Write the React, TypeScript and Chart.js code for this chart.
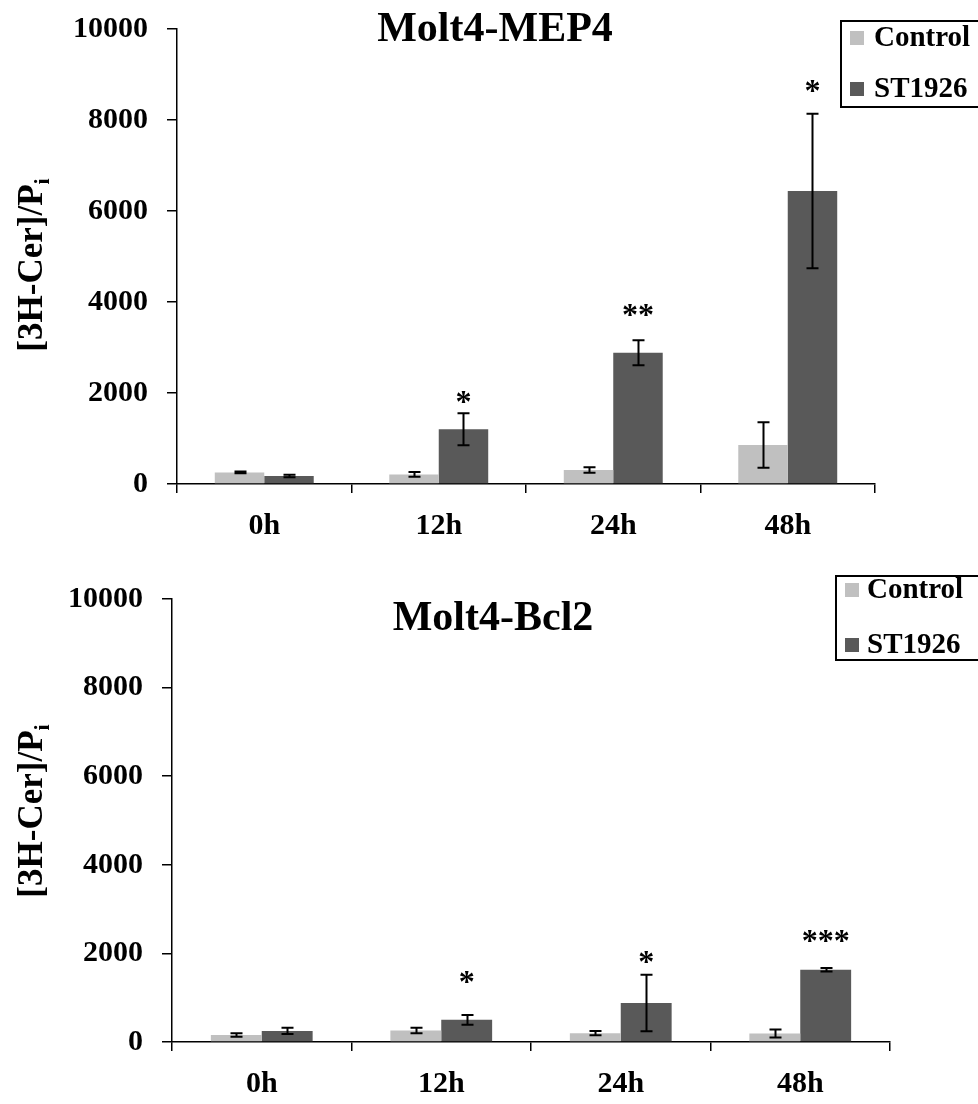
import React, { useEffect, useRef } from 'react';
import { Chart, registerables } from 'chart.js';

Chart.register(...registerables);

// Time points and series
const timePoints = ['0h', '12h', '24h', '48h'];
const seriesNames = ['Control', 'ST1926'];
const yTickValues = [0, 2000, 4000, 6000, 8000, 10000];

// Molt4-MEP4: mean and error
const mep4Control = [255, 211, 308, 857];
const mep4ControlErr = [20, 50, 60, 498];
const mep4Treated = [176, 1202, 2886, 6440];
const mep4TreatedErr = [30, 352, 275, 1700];
const mep4Stars = ['', '*', '**', '*'];

// Molt4-Bcl2: mean and error
const bcl2Control = [160, 260, 200, 190];
const bcl2ControlErr = [40, 60, 50, 90];
const bcl2Treated = [250, 500, 880, 1630];
const bcl2TreatedErr = [70, 110, 640, 40];
const bcl2Stars = ['', '*', '*', '***'];

const SERIF = '"Liberation Serif", "Times New Roman", serif';
const CONTROL_COLOR = '#c0c0c0';
const TREATED_COLOR = '#595959';

type Geom = {
  height: number;
  left: number;
  right: number;
  top: number;
  bottom: number;
  titleX: number;
  titleY: number;
  yTitleX: number;
  yTitleY: number;
  legendX: number;
  legendY: number;
  legendH: number;
  legendSquareX: number;
  legendTextX: number;
  legendRows: number[];
  starLift: number[];
};

type PanelProps = {
  title: string;
  control: number[];
  controlErr: number[];
  treated: number[];
  treatedErr: number[];
  stars: string[];
  geom: Geom;
};

function Panel({ title, control, controlErr, treated, treatedErr, stars, geom }: PanelProps) {
  const ref = useRef<HTMLCanvasElement | null>(null);

  useEffect(() => {
    if (!ref.current) return;
    const W = 978;
    const errs = [controlErr, treatedErr];

    const decorations = {
      id: 'panelDecorations',
      afterDatasetsDraw(chart: any) {
        const ctx = chart.ctx;
        const ys = chart.scales.y;
        ctx.save();
        // error bars
        ctx.strokeStyle = '#000';
        ctx.lineWidth = 2;
        chart.data.datasets.forEach((ds: any, i: number) => {
          const meta = chart.getDatasetMeta(i);
          meta.data.forEach((bar: any, j: number) => {
            const v = ds.data[j];
            const e = errs[i][j];
            const x = Math.round(bar.x) + 0.5;
            const yHi = ys.getPixelForValue(v + e);
            const yLo = ys.getPixelForValue(Math.max(v - e, 0));
            ctx.beginPath();
            ctx.moveTo(x, yHi);
            ctx.lineTo(x, yLo);
            ctx.moveTo(x - 6, yHi);
            ctx.lineTo(x + 6, yHi);
            ctx.moveTo(x - 6, yLo);
            ctx.lineTo(x + 6, yLo);
            ctx.stroke();
          });
        });
        // significance marks over the treated bars
        const meta1 = chart.getDatasetMeta(1);
        ctx.fillStyle = '#000';
        ctx.font = `bold 32px ${SERIF}`;
        ctx.textAlign = 'center';
        ctx.textBaseline = 'alphabetic';
        stars.forEach((s, j) => {
          if (!s) return;
          const bar = meta1.data[j];
          const yHi = ys.getPixelForValue(treated[j] + treatedErr[j]);
          const cy = yHi - geom.starLift[j];
          ctx.fillText(s, bar.x, cy + 0.47 * 32);
        });
        ctx.restore();
      },
      afterDraw(chart: any) {
        const ctx = chart.ctx;
        ctx.save();
        // title
        ctx.fillStyle = '#000';
        ctx.font = `bold 42px ${SERIF}`;
        ctx.textAlign = 'center';
        ctx.textBaseline = 'middle';
        ctx.fillText(title, geom.titleX, geom.titleY);

        // rotated y-axis title with subscript i
        ctx.translate(geom.yTitleX, geom.yTitleY);
        ctx.rotate(-Math.PI / 2);
        const main = '[3H-Cer]/P';
        ctx.font = `bold 35px ${SERIF}`;
        const wMain = ctx.measureText(main).width;
        ctx.font = `bold 22px ${SERIF}`;
        const wSub = ctx.measureText('i').width;
        const start = -(wMain + wSub) / 2;
        ctx.textAlign = 'left';
        ctx.textBaseline = 'alphabetic';
        ctx.font = `bold 35px ${SERIF}`;
        ctx.fillText(main, start, 12);
        ctx.font = `bold 22px ${SERIF}`;
        ctx.fillText('i', start + wMain, 19);
        ctx.setTransform(1, 0, 0, 1, 0, 0);

        // legend box
        ctx.strokeStyle = '#000';
        ctx.lineWidth = 2;
        ctx.strokeRect(geom.legendX + 1, geom.legendY + 1, W - geom.legendX + 10, geom.legendH);
        const colors = [CONTROL_COLOR, TREATED_COLOR];
        ctx.font = `bold 29px ${SERIF}`;
        ctx.textAlign = 'left';
        ctx.textBaseline = 'middle';
        seriesNames.forEach((name, i) => {
          const cy = geom.legendRows[i];
          ctx.fillStyle = colors[i];
          ctx.fillRect(geom.legendSquareX, cy - 7, 14, 14);
          ctx.fillStyle = '#000';
          ctx.fillText(name, geom.legendTextX, cy + 1);
        });
        ctx.restore();
      },
    };

    const chart = new Chart(ref.current, {
      type: 'bar',
      data: {
        labels: timePoints,
        datasets: [
          {
            label: seriesNames[0],
            data: control,
            backgroundColor: CONTROL_COLOR,
            borderWidth: 0,
            categoryPercentage: 0.567,
            barPercentage: 1,
          },
          {
            label: seriesNames[1],
            data: treated,
            backgroundColor: TREATED_COLOR,
            borderWidth: 0,
            categoryPercentage: 0.567,
            barPercentage: 1,
          },
        ],
      },
      options: {
        responsive: false,
        animation: false,
        devicePixelRatio: 1,
        layout: {
          autoPadding: false,
          padding: { top: geom.top, right: W - geom.right, bottom: 0, left: 0 },
        },
        plugins: {
          legend: { display: false },
          title: { display: false },
          tooltip: { enabled: false },
        },
        scales: {
          x: {
            offset: true,
            grid: {
              offset: true,
              drawOnChartArea: false,
              drawTicks: true,
              tickLength: 9,
              color: '#000',
              lineWidth: 1.5,
            },
            border: { display: true, color: '#000', width: 1.5 },
            ticks: {
              color: '#000',
              font: { family: SERIF, size: 30, weight: 'bold' },
              padding: 15,
              maxRotation: 0,
            },
            afterFit(scale: any) {
              scale.height = geom.height - geom.bottom;
              scale.paddingLeft = 0;
              scale.paddingRight = 0;
            },
          },
          y: {
            min: 0,
            max: 10000,
            afterBuildTicks(scale: any) {
              scale.ticks = yTickValues.map((v) => ({ value: v }));
            },
            grid: {
              drawOnChartArea: false,
              drawTicks: true,
              tickLength: 10,
              color: '#000',
              lineWidth: 1.5,
            },
            border: { display: true, color: '#000', width: 1.5 },
            ticks: {
              color: '#000',
              font: { family: SERIF, size: 30, weight: 'bold' },
              padding: 19,
              callback: (v: any) => String(v),
            },
            afterFit(scale: any) {
              scale.width = geom.left;
              scale.paddingTop = 0;
              scale.paddingBottom = 0;
            },
          },
        },
      },
      plugins: [decorations],
    } as any);

    return () => chart.destroy();
  }, []);

  return <canvas ref={ref} width={978} height={geom.height} style={{ display: 'block' }} />;
}

const topGeom: Geom = {
  height: 552,
  left: 177,
  right: 875,
  top: 29,
  bottom: 484,
  titleX: 495,
  titleY: 30,
  yTitleX: 30,
  yTitleY: 265,
  legendX: 840,
  legendY: 20,
  legendH: 86,
  legendSquareX: 850,
  legendTextX: 874,
  legendRows: [38, 89],
  starLift: [0, 16, 30, 28],
};

const bottomGeom: Geom = {
  height: 552,
  left: 172,
  right: 890,
  top: 47,
  bottom: 490,
  titleX: 493,
  titleY: 67,
  yTitleX: 30,
  yTitleY: 259,
  legendX: 835,
  legendY: 23,
  legendH: 84,
  legendSquareX: 845,
  legendTextX: 867,
  legendRows: [38, 93],
  starLift: [0, 38, 18, 32],
};

export default function App() {
  return (
    <div style={{ position: 'absolute', left: 0, top: 0, width: 978, height: 1104, background: '#fff' }}>
      <Panel
        title="Molt4-MEP4"
        control={mep4Control}
        controlErr={mep4ControlErr}
        treated={mep4Treated}
        treatedErr={mep4TreatedErr}
        stars={mep4Stars}
        geom={topGeom}
      />
      <Panel
        title="Molt4-Bcl2"
        control={bcl2Control}
        controlErr={bcl2ControlErr}
        treated={bcl2Treated}
        treatedErr={bcl2TreatedErr}
        stars={bcl2Stars}
        geom={bottomGeom}
      />
    </div>
  );
}
